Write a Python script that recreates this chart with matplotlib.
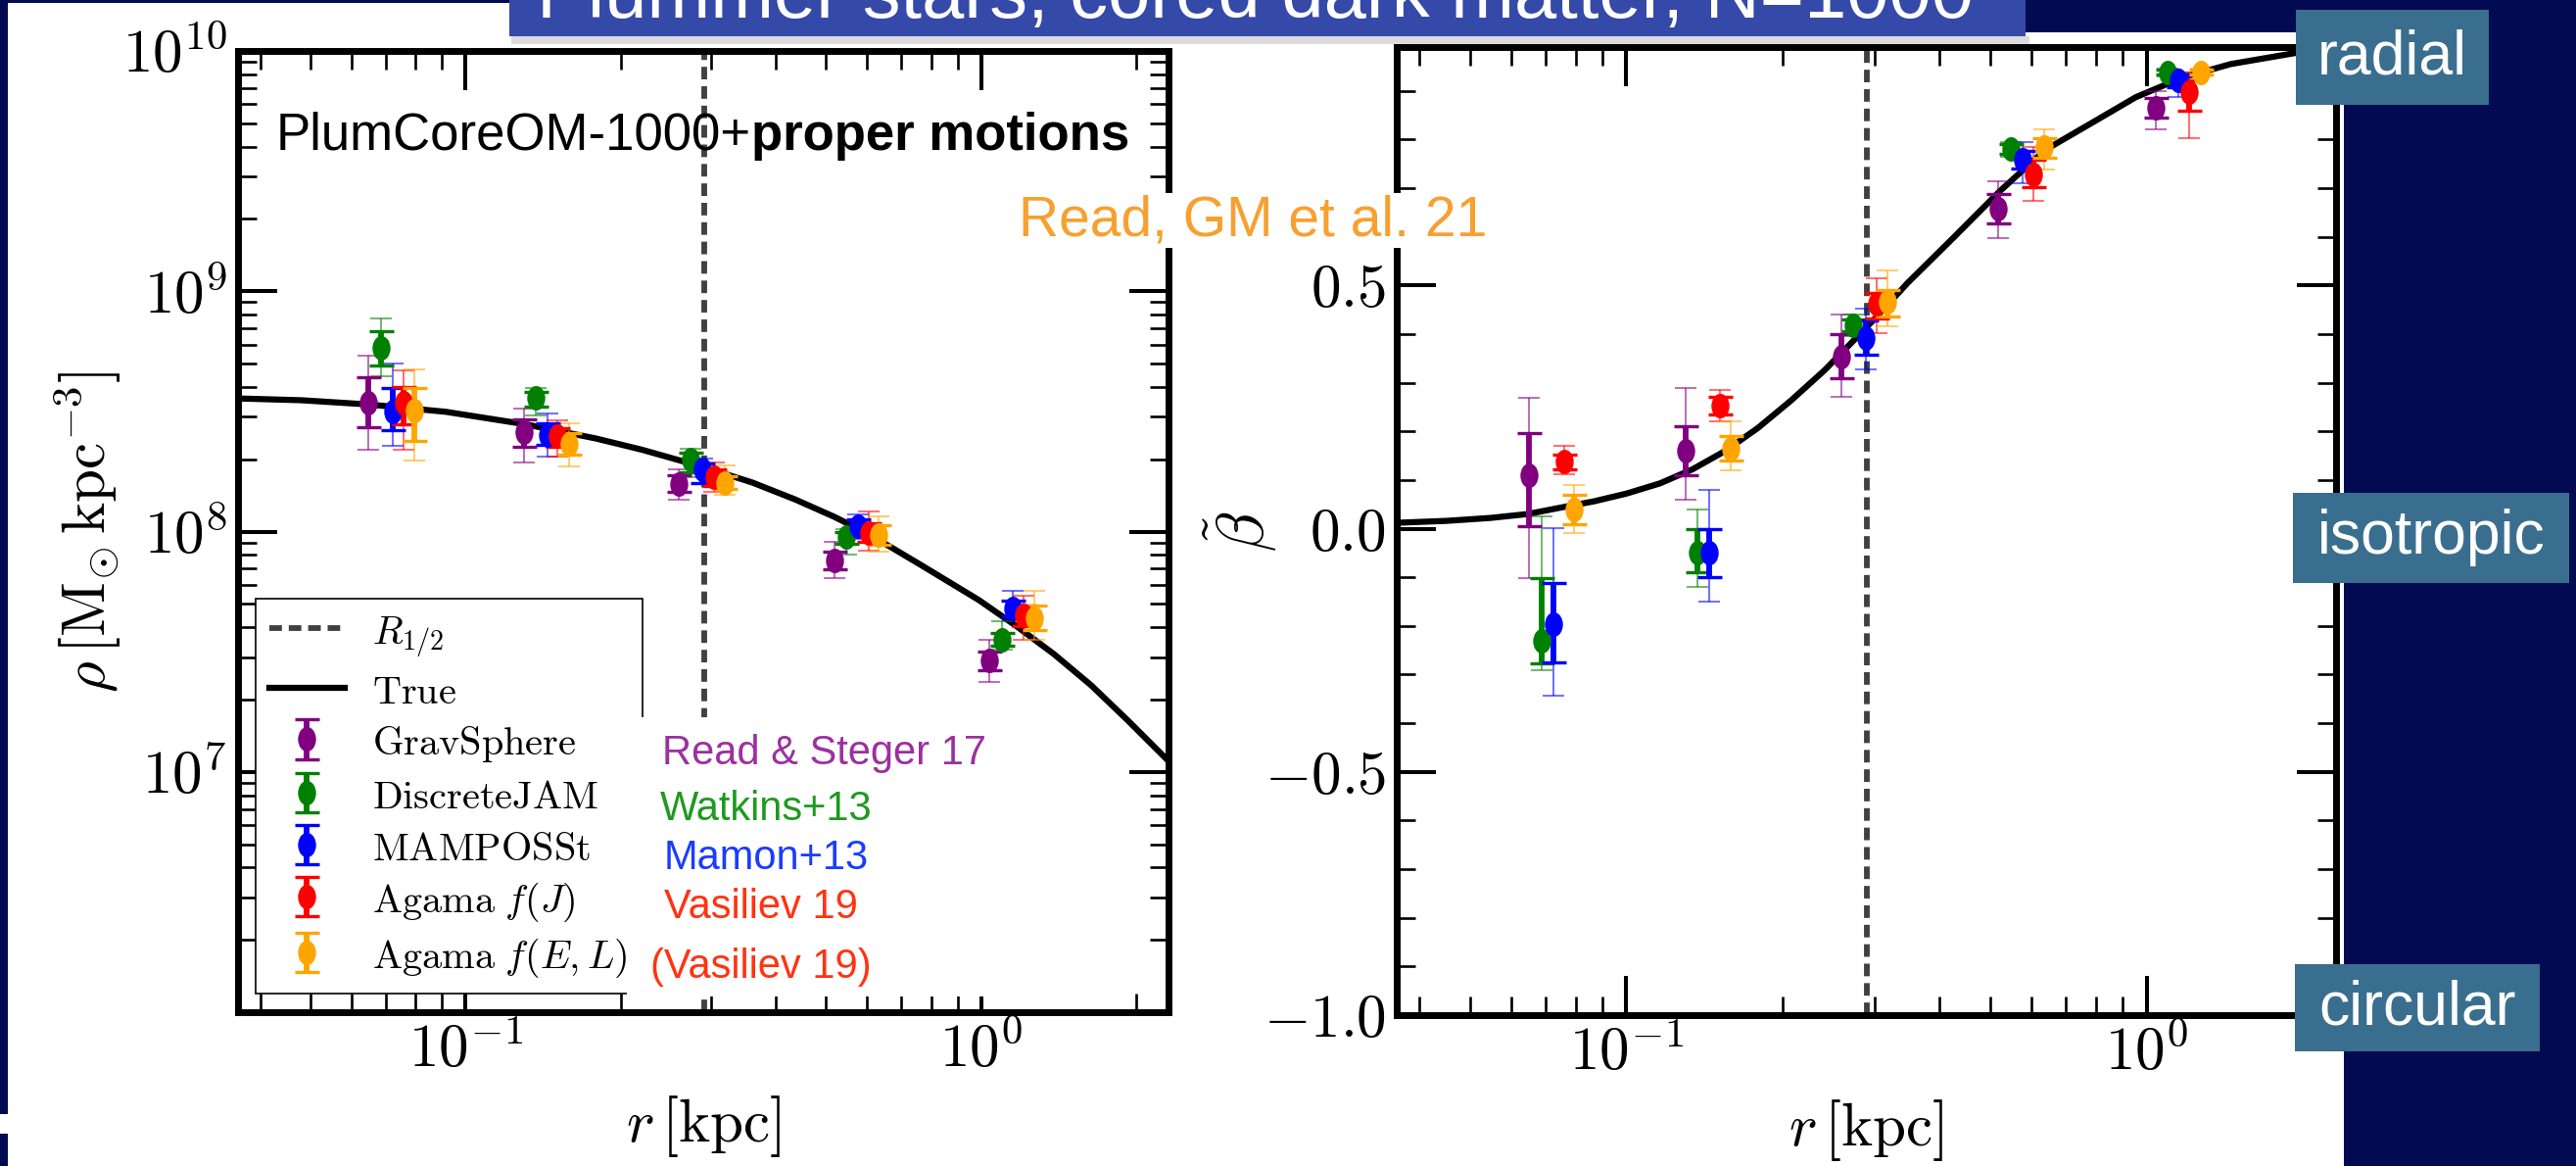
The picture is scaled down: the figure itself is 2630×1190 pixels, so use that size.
import numpy as np
import matplotlib
matplotlib.use("Agg")
import matplotlib.pyplot as plt
from matplotlib.patches import Rectangle
from matplotlib.path import Path
from matplotlib.lines import Line2D
from matplotlib.ticker import (FuncFormatter, LogLocator, MultipleLocator,
                               FixedLocator, NullFormatter)

plt.rcParams['mathtext.fontset'] = 'cm'
plt.rcParams['font.family'] = ['Liberation Sans', 'DejaVu Sans']

# ---------------- data ----------------
METHODS = [r'$\mathrm{GravSphere}$', r'$\mathrm{DiscreteJAM}$', r'$\mathrm{MAMPOSSt}$',
           r'$\mathrm{Agama}\ f(J)$', r'$\mathrm{Agama}\ f(E,L)$']
COLORS = ['purple', 'green', 'blue', 'red', 'orange']

# radial bins (one row per method)
R = [[0.0649, 0.130, 0.259, 0.519, 1.039],
     [0.0687, 0.137, 0.273, 0.548, 1.096],
     [0.0723, 0.144, 0.288, 0.577, 1.152],
     [0.0759, 0.151, 0.303, 0.606, 1.208],
     [0.0794, 0.159, 0.318, 0.634, 1.269]]

RHO = [[3.45e8, 2.59e8, 1.58e8, 7.57e7, 2.90e7],
       [5.83e8, 3.59e8, 2.00e8, 9.51e7, 3.56e7],
       [3.15e8, 2.52e8, 1.81e8, 1.05e8, 4.79e7],
       [3.45e8, 2.49e8, 1.69e8, 9.89e7, 4.50e7],
       [3.20e8, 2.31e8, 1.59e8, 9.66e7, 4.36e7]]
RHO_IN_LO = [[2.73e8, 2.25e8, 1.46e8, 6.95e7, 2.64e7],
             [4.92e8, 3.32e8, 1.76e8, 8.93e7, 3.34e7],
             [2.64e8, 2.30e8, 1.59e8, 9.82e7, 4.43e7],
             [2.80e8, 2.25e8, 1.55e8, 9.08e7, 4.03e7],
             [2.39e8, 2.08e8, 1.50e8, 8.85e7, 3.91e7]]
RHO_IN_HI = [[4.37e8, 2.94e8, 1.71e8, 8.26e7, 3.18e7],
             [6.84e8, 3.82e8, 2.12e8, 9.98e7, 3.78e7],
             [3.94e8, 2.81e8, 1.92e8, 1.12e8, 5.18e7],
             [3.98e8, 2.70e8, 1.81e8, 1.08e8, 4.94e7],
             [3.94e8, 2.56e8, 1.70e8, 1.06e8, 4.94e7]]
RHO_OUT_LO = [[2.20e8, 1.93e8, 1.36e8, 6.43e7, 2.36e7],
              [4.41e8, 3.03e8, 1.69e8, 8.02e7, 3.24e7],
              [2.27e8, 2.05e8, 1.57e8, 9.31e7, 4.29e7],
              [2.18e8, 2.05e8, 1.46e8, 8.32e7, 3.56e7],
              [1.97e8, 1.86e8, 1.42e8, 8.22e7, 3.56e7]]
RHO_OUT_HI = [[5.41e8, 3.26e8, 1.82e8, 9.02e7, 3.53e7],
              [7.73e8, 3.94e8, 2.21e8, 1.02e8, 4.22e7],
              [4.99e8, 3.09e8, 2.01e8, 1.18e8, 5.65e7],
              [4.70e8, 2.91e8, 1.93e8, 1.21e8, 5.42e7],
              [4.71e8, 2.81e8, 1.88e8, 1.16e8, 5.68e7]]

BETA = [[0.109, 0.160, 0.354, 0.658, 0.866],
        [-0.230, -0.050, 0.418, 0.780, 0.938],
        [-0.196, -0.050, 0.392, 0.758, 0.921],
        [0.138, 0.252, 0.463, 0.729, 0.897],
        [0.040, 0.165, 0.467, 0.784, 0.938]]
BETA_IN_LO = [[0.006, 0.110, 0.310, 0.627, 0.845],
              [-0.277, -0.090, 0.405, 0.770, 0.933],
              [-0.275, -0.100, 0.358, 0.741, 0.907],
              [0.122, 0.235, 0.433, 0.701, 0.860],
              [0.010, 0.140, 0.436, 0.762, 0.933]]
BETA_IN_HI = [[0.196, 0.210, 0.400, 0.687, 0.886],
              [-0.101, 0.000, 0.430, 0.790, 0.943],
              [-0.111, 0.000, 0.429, 0.777, 0.931],
              [0.152, 0.270, 0.484, 0.758, 0.921],
              [0.070, 0.190, 0.490, 0.802, 0.943]]
BETA_OUT_LO = [[-0.101, 0.060, 0.270, 0.597, 0.821],
               [-0.291, -0.120, 0.395, 0.765, 0.930],
               [-0.343, -0.150, 0.328, 0.711, 0.888],
               [0.112, 0.220, 0.402, 0.673, 0.802],
               [-0.010, 0.120, 0.416, 0.739, 0.930]]
BETA_OUT_HI = [[0.269, 0.290, 0.440, 0.714, 0.900],
               [0.026, 0.040, 0.440, 0.795, 0.946],
               [0.001, 0.080, 0.453, 0.795, 0.938],
               [0.171, 0.285, 0.514, 0.785, 0.938],
               [0.090, 0.220, 0.531, 0.820, 0.946]]

TRUE_R_RHO = [0.0363, 0.048, 0.0649, 0.0916, 0.130, 0.179, 0.22, 0.288, 0.36,
              0.436, 0.52, 0.611, 0.762, 0.99, 1.173, 1.385, 1.636, 1.93, 2.30]
TRUE_RHO = [3.58e8, 3.52e8, 3.38e8, 3.15e8, 2.80e8, 2.44e8, 2.19e8, 1.86e8,
            1.60e8, 1.36e8, 1.15e8, 9.66e7, 7.29e7, 5.19e7, 4.03e7, 3.09e7,
            2.29e7, 1.63e7, 1.12e7]

TRUE_R_BETA = [0.0362, 0.0452, 0.0548, 0.0646, 0.0771, 0.0865, 0.100, 0.116,
               0.134, 0.155, 0.179, 0.207, 0.240, 0.277, 0.301, 0.347, 0.425,
               0.521, 0.637, 0.781, 0.953, 1.17, 1.45, 1.935, 2.33]
TRUE_BETA = [0.012, 0.016, 0.022, 0.030, 0.046, 0.056, 0.072, 0.093, 0.122,
             0.160, 0.207, 0.263, 0.325, 0.393, 0.433, 0.505, 0.598, 0.693,
             0.778, 0.833, 0.887, 0.927, 0.955, 0.978, 0.988]

R_HALF = 0.29
XLIM = (0.0362, 2.31)

# ---------------- figure ----------------
W, H = 2630, 1190
NAVY = '#020B52'
fig = plt.figure(figsize=(W / 100, H / 100), dpi=100, facecolor=NAVY)


def fx(x):
    return x / W


def fy(y):
    return 1 - y / H


def prect(x0, y0, x1, y1, **kw):
    r = Rectangle((fx(x0), fy(y1)), (x1 - x0) / W, (y1 - y0) / H,
                  transform=fig.transFigure, **kw)
    fig.add_artist(r)
    return r


# slide background pieces
prect(8, 3, 2393, 1190, facecolor='white', edgecolor='none', zorder=-2)
prect(2068, 0, 2393, 33, facecolor=NAVY, edgecolor='none', zorder=-1)
prect(0, 1137, 8, 1157, facecolor='white', edgecolor='none', zorder=-1)

ax1 = fig.add_axes([243 / W, 1 - 1033 / H, (1193 - 243) / W, (1033 - 52) / H])
ax2 = fig.add_axes([1426 / W, 1 - 1036 / H, (2385 - 1426) / W, (1036 - 48) / H])

circ = Path.unit_circle()
ELL = Path(circ.vertices * np.array([0.72, 1.0]), circ.codes)


def draw_points(ax, vals, in_lo, in_hi, out_lo, out_hi):
    handles = []
    for i in range(len(METHODS)):
        r = np.array(R[i])
        v = np.array(vals[i])
        olo, ohi = np.array(out_lo[i]), np.array(out_hi[i])
        ilo, ihi = np.array(in_lo[i]), np.array(in_hi[i])
        ax.errorbar(r, v, yerr=[v - olo, ohi - v], fmt='none', ecolor=COLORS[i],
                    elinewidth=1.5, capsize=8, capthick=1.5, alpha=0.55, zorder=3)
        h = ax.errorbar(r, v, yerr=[v - ilo, ihi - v], fmt='', marker=ELL,
                        linestyle='none', ms=17, color=COLORS[i],
                        mec=COLORS[i], mfc=COLORS[i], ecolor=COLORS[i],
                        elinewidth=4.2, capsize=9, capthick=2.4, zorder=4,
                        label=METHODS[i])
        handles.append(h)
    return handles


# ---- left panel
ax1.set_xscale('log')
ax1.set_yscale('log')
ax1.plot(TRUE_R_RHO, TRUE_RHO, color='black', lw=4.5, zorder=2,
         solid_joinstyle='round')
ax1.axvline(R_HALF, color='#404040', lw=4.2, dashes=(2.2, 1.2), zorder=1)
h1 = draw_points(ax1, RHO, RHO_IN_LO, RHO_IN_HI, RHO_OUT_LO, RHO_OUT_HI)
ax1.set_xlim(*XLIM)
ax1.set_ylim(1e6, 1e10)

# ---- right panel
ax2.set_xscale('log')
ax2.plot(TRUE_R_BETA, TRUE_BETA, color='black', lw=4.5, zorder=2,
         solid_joinstyle='round')
ax2.axvline(R_HALF, color='#404040', lw=4.2, dashes=(2.2, 1.2), zorder=1)
draw_points(ax2, BETA, BETA_IN_LO, BETA_IN_HI, BETA_OUT_LO, BETA_OUT_HI)
ax2.set_xlim(*XLIM)
ax2.set_ylim(-1.0, 0.99)

logfmt = FuncFormatter(lambda v, p: r'$10^{%d}$' % int(round(np.log10(v))))
for ax in (ax1, ax2):
    ax.xaxis.set_major_locator(FixedLocator([0.1, 1.0]))
    ax.xaxis.set_major_formatter(logfmt)
    ax.xaxis.set_minor_locator(LogLocator(base=10, subs=np.arange(2, 10), numticks=20))
    ax.xaxis.set_minor_formatter(NullFormatter())
    ax.tick_params(which='both', direction='in', top=True, right=True,
                   labelsize=44, pad=8)
    ax.tick_params(which='major', length=29, width=2.9)
    ax.tick_params(which='minor', length=14, width=1.9)
    for s in ax.spines.values():
        s.set_linewidth(5)
    ax.set_xlabel(r'$r\,[\mathrm{kpc}]$', fontsize=44)
    ax.xaxis.set_label_coords(0.5, -0.085)

ax1.yaxis.set_major_locator(FixedLocator([1e6, 1e7, 1e8, 1e9, 1e10]))
ax1.yaxis.set_major_formatter(FuncFormatter(
    lambda v, p: '' if v < 5e6 else r'$10^{%d}$' % int(round(np.log10(v)))))
ax1.yaxis.set_minor_locator(LogLocator(base=10, subs=np.arange(2, 10), numticks=20))
ax1.yaxis.set_minor_formatter(NullFormatter())
ax1.set_ylabel(r'$\rho\,[\mathrm{M}_{\odot}\,\mathrm{kpc}^{-3}]$', fontsize=44)
ax1.yaxis.set_label_coords(-0.123, 0.5)

ax2.yaxis.set_major_locator(MultipleLocator(0.5))
ax2.yaxis.set_minor_locator(MultipleLocator(0.1))
ax2.yaxis.set_major_formatter(FuncFormatter(lambda v, p: r'$%.1f$' % v))
ax2.set_ylabel(r'$\tilde{\beta}$', fontsize=48)
ax2.yaxis.set_label_coords(-0.125, 0.5)

# legend
lh = [Line2D([], [], color='#404040', lw=4.2, dashes=(2.2, 1.2)),
      Line2D([], [], color='black', lw=4.5)] + h1
ll = [r'$R_{1/2}$', r'$\mathrm{True}$'] + METHODS
leg = ax1.legend(lh, ll, loc='upper left',
                 bbox_to_anchor=(0.019, 0.019, 0.416, 0.411), mode='expand',
                 borderaxespad=0, fontsize=29, frameon=True, fancybox=False,
                 edgecolor='black', framealpha=1, handlelength=1.9,
                 handleheight=1.0, handletextpad=0.7, labelspacing=0.32,
                 borderpad=0.35)
leg.get_frame().set_linewidth(1.2)
leg.set_zorder(10)

# panel label
t1 = ax1.text(0.041, 0.886, 'PlumCoreOM-1000+', transform=ax1.transAxes,
              fontsize=38, va='bottom', ha='left', zorder=6)
ax1.annotate('proper motions', xy=(1, 0), xycoords=t1, fontsize=38,
             fontweight='bold', va='bottom', ha='left', zorder=6)

# white box with references (pasted over the legend)
prect(640, 732, 1025, 1017, facecolor='white', edgecolor='none', zorder=2)
REFS = ['Read & Steger 17', 'Watkins+13', 'Mamon+13', 'Vasiliev 19', '(Vasiliev 19)']
REF_COLORS = ['#9B30A0', '#1E9A1E', '#1A3CFF', '#FF3311', '#FF3311']
REF_X = [676, 674, 678, 678, 664]
REF_Y = [780, 837, 887, 937, 998]
for s, c, x, y in zip(REFS, REF_COLORS, REF_X, REF_Y):
    fig.text(fx(x), fy(y), s, color=c, fontsize=30, ha='left', va='baseline',
             zorder=4)

fig.text(fx(1040), fy(225), 'Read, GM et al. 21', color='#F7A030', fontsize=41,
         ha='left', va='center', zorder=4,
         bbox=dict(facecolor='white', edgecolor='none', pad=1))

# title banner
prect(522, 37, 2072, 45, facecolor='#B8B8B8', edgecolor='none', alpha=0.5, zorder=2)
prect(520, 0, 2068, 37, facecolor='#3449A8', edgecolor='none', zorder=3)
fig.text(fx(548), fy(18), 'Plummer stars, cored dark matter, N=1000', color='white',
         fontsize=56, ha='left', va='baseline', zorder=4)

# side boxes
BOXC = '#3A6E8F'
for (x0, y0, x1, y1), s in zip([(2344, 10, 2541, 107), (2341, 503, 2623, 595),
                                (2343, 984, 2593, 1073)],
                               ['radial', 'isotropic', 'circular']):
    prect(x0, y0, x1, y1, facecolor=BOXC, edgecolor='none', zorder=5)
    fig.text(fx((x0 + x1) / 2), fy((y0 + y1) / 2), s, color='white', fontsize=45,
             ha='center', va='center', zorder=6)

fig.savefig('out.png', dpi=100, facecolor=NAVY)
